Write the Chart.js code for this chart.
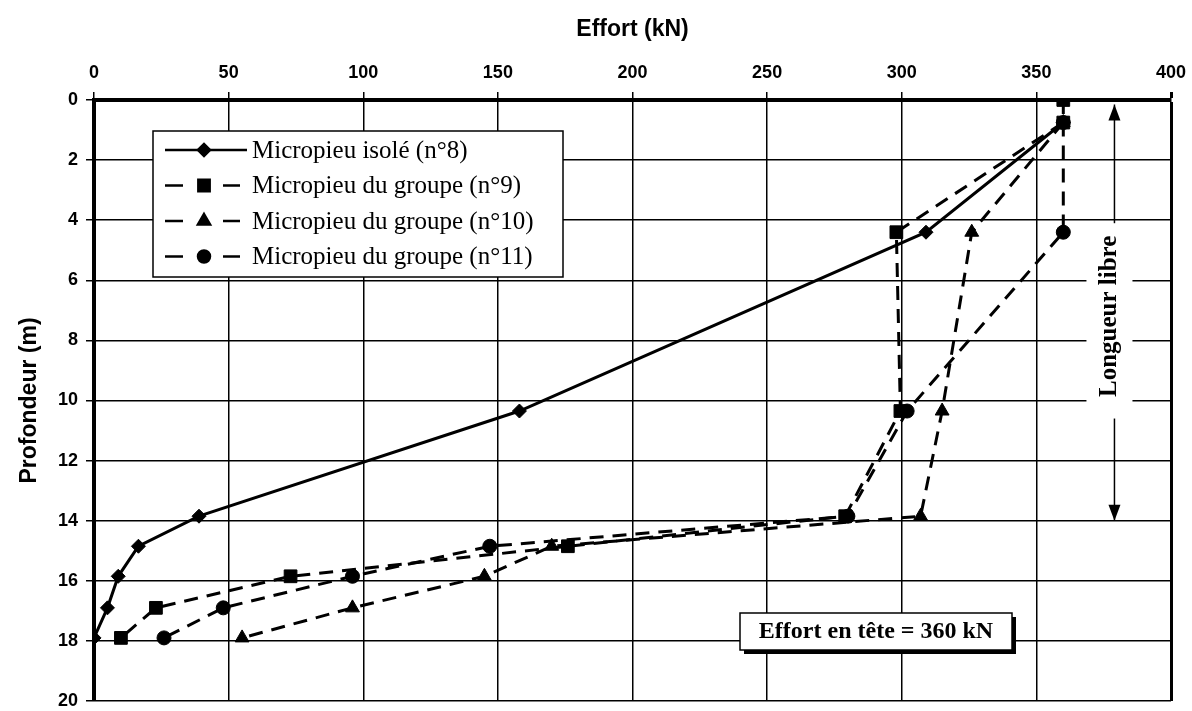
<!DOCTYPE html>
<html>
<head>
<meta charset="utf-8">
<script src="https://cdn.jsdelivr.net/npm/chart.js@4"></script>
<style>html,body{margin:0;padding:0;background:#fff}</style>
</head>
<body>
<canvas id="chart" width="1192" height="711"></canvas>
<script>
// Effort le long des micropieux, profondeur vers le bas.
const depths = [0.75, 4.4, 10.35, 13.85, 14.85, 15.85, 16.9, 17.9];
const depthsN9 = [0, 0.75, 4.4, 10.35, 13.85, 14.85, 15.85, 16.9, 17.9];
const effortN8 = [360, 309, 158, 39, 16.5, 9, 5, 0];
const effortN9 = [360, 360, 298, 299.5, 279, 176, 73, 23, 10];
const effortN10 = [360, 326, 315, 307, 170, 145, 96, 55];
const effortN11 = [360, 360, 302, 280, 147, 96, 48, 26];
const labels = ['Micropieu isolé (n°8)', 'Micropieu du groupe (n°9)', 'Micropieu du groupe (n°10)', 'Micropieu du groupe (n°11)'];
const xTicks = [0, 50, 100, 150, 200, 250, 300, 350, 400];
const yTicks = [0, 2, 4, 6, 8, 10, 12, 14, 16, 18, 20];

const pts = (xs, ys) => xs.map((x, i) => ({ x, y: ys[i] }));
const DASH = [14, 9];

const styles = [
  { pointStyle: 'rectRot', pointRadius: 7, dash: [] },
  { pointStyle: 'rect', pointRadius: 9, dash: DASH },
  { pointStyle: 'triangle', pointRadius: 8, dash: DASH },
  { pointStyle: 'circle', pointRadius: 7, dash: DASH },
];
const series = [pts(effortN8, depths), pts(effortN9, depthsN9), pts(effortN10, depths), pts(effortN11, depths)];

const datasets = series.map((data, i) => ({
  label: labels[i],
  data,
  showLine: true,
  borderColor: '#000',
  backgroundColor: '#000',
  borderWidth: 3,
  borderDash: styles[i].dash,
  pointStyle: styles[i].pointStyle,
  pointRadius: styles[i].pointRadius,
  pointBackgroundColor: '#000',
  pointBorderColor: '#000',
  pointBorderWidth: 1,
}));

// légende dans le cadre, en haut à gauche
const insideLegend = {
  id: 'insideLegend',
  afterDraw(chart) {
    const ctx = chart.ctx;
    ctx.save();
    ctx.fillStyle = '#fff';
    ctx.fillRect(153, 131, 410, 146);
    ctx.strokeStyle = '#000';
    ctx.lineWidth = 1.5;
    ctx.strokeRect(153, 131, 410, 146);
    chart.data.datasets.forEach((ds, i) => {
      const y = 150 + i * 35.5;
      ctx.strokeStyle = '#000';
      ctx.lineWidth = 2.5;
      ctx.setLineDash([]);
      ctx.beginPath();
      if (ds.borderDash.length === 0) {
        ctx.moveTo(165, y); ctx.lineTo(247, y);
      } else {
        ctx.moveTo(165, y); ctx.lineTo(183, y);
        ctx.moveTo(223, y); ctx.lineTo(240, y);
      }
      ctx.stroke();
      ctx.fillStyle = '#000';
      Chart.helpers.drawPoint(ctx, { pointStyle: ds.pointStyle, radius: ds.pointRadius - 1, borderWidth: 1, rotation: 0 }, 204, y);
      ctx.font = '25px "Liberation Serif", "Times New Roman", serif';
      ctx.textBaseline = 'middle';
      ctx.textAlign = 'left';
      ctx.fillText(ds.label, 252, y + 1);
    });
    ctx.restore();
  }
};

// "Longueur libre" et "Effort en tête"
const notes = {
  id: 'notes',
  afterDraw(chart) {
    const ctx = chart.ctx;
    const xs = chart.scales.x, ys = chart.scales.y;
    ctx.save();
    const ax = xs.getPixelForValue(379);
    const arrow = (y0, y1) => {
      ctx.strokeStyle = '#000';
      ctx.fillStyle = '#000';
      ctx.lineWidth = 1.5;
      ctx.beginPath(); ctx.moveTo(ax, y0); ctx.lineTo(ax, y1); ctx.stroke();
      const dir = Math.sign(y1 - y0);
      ctx.beginPath();
      ctx.moveTo(ax, y1);
      ctx.lineTo(ax - 6, y1 - dir * 16);
      ctx.lineTo(ax + 6, y1 - dir * 16);
      ctx.closePath(); ctx.fill();
    };
    arrow(ys.getPixelForValue(4.1), ys.getPixelForValue(0.15));
    arrow(ys.getPixelForValue(10.6), ys.getPixelForValue(14.0));
    ctx.fillStyle = '#fff';
    ctx.fillRect(ax - 28, ys.getPixelForValue(4.3), 46, ys.getPixelForValue(10.4) - ys.getPixelForValue(4.3));
    ctx.translate(ax - 5, ys.getPixelForValue(7.2));
    ctx.rotate(-Math.PI / 2);
    ctx.fillStyle = '#000';
    ctx.font = 'bold 25px "Liberation Serif", "Times New Roman", serif';
    ctx.textAlign = 'center';
    ctx.textBaseline = 'middle';
    ctx.fillText('Longueur libre', 0, 0);
    ctx.restore();

    ctx.save();
    ctx.fillStyle = '#000';
    ctx.fillRect(744, 617, 272, 37);
    ctx.fillStyle = '#fff';
    ctx.fillRect(740, 613, 272, 37);
    ctx.strokeStyle = '#000';
    ctx.lineWidth = 1.5;
    ctx.strokeRect(740, 613, 272, 37);
    ctx.fillStyle = '#000';
    ctx.font = 'bold 24px "Liberation Serif", "Times New Roman", serif';
    ctx.textAlign = 'center';
    ctx.textBaseline = 'middle';
    ctx.fillText('Effort en tête = 360 kN', 876, 632);
    ctx.restore();
  }
};

const tickFont = { family: '"Liberation Sans", Arial, sans-serif', weight: 'bold', size: 18 };
const titleFont = { family: '"Liberation Sans", Arial, sans-serif', weight: 'bold', size: 23 };

new Chart(document.getElementById('chart'), {
  type: 'scatter',
  data: { datasets },
  plugins: [insideLegend, notes],
  options: {
    responsive: false,
    devicePixelRatio: 1,
    animation: false,
    layout: { padding: { top: 0, right: 21, bottom: 9, left: 0 } },
    plugins: { legend: { display: false }, tooltip: { enabled: false } },
    scales: {
      x: {
        type: 'linear',
        position: 'top',
        min: 0, max: 400,
        afterBuildTicks(scale) { scale.ticks = xTicks.map(v => ({ value: v })); },
        afterFit(scale) { scale.height = 100; scale.paddingLeft = 0; scale.paddingRight = 0; },
        ticks: { color: '#000', font: tickFont, padding: 8, maxRotation: 0 },
        grid: { color: '#000', lineWidth: c => (c.tick && c.tick.value === 400 ? 3 : 1.5), tickLength: 8 },
        border: { color: '#000', width: 4 },
        title: { display: true, text: 'Effort (kN)', color: '#000', font: titleFont, padding: { top: 16, bottom: 0 } },
      },
      y: {
        type: 'linear',
        reverse: true,
        min: 0, max: 20,
        afterBuildTicks(scale) { scale.ticks = yTicks.map(v => ({ value: v })); },
        afterFit(scale) { scale.width = 94; scale.paddingTop = 0; scale.paddingBottom = 0; },
        ticks: { color: '#000', font: tickFont, padding: 8 },
        grid: { color: '#000', lineWidth: 1.5, tickLength: 8 },
        border: { color: '#000', width: 4 },
        title: { display: true, text: 'Profondeur (m)', color: '#000', font: titleFont, padding: { top: 16, bottom: 0 } },
      },
    },
  },
});
</script>
</body>
</html>
